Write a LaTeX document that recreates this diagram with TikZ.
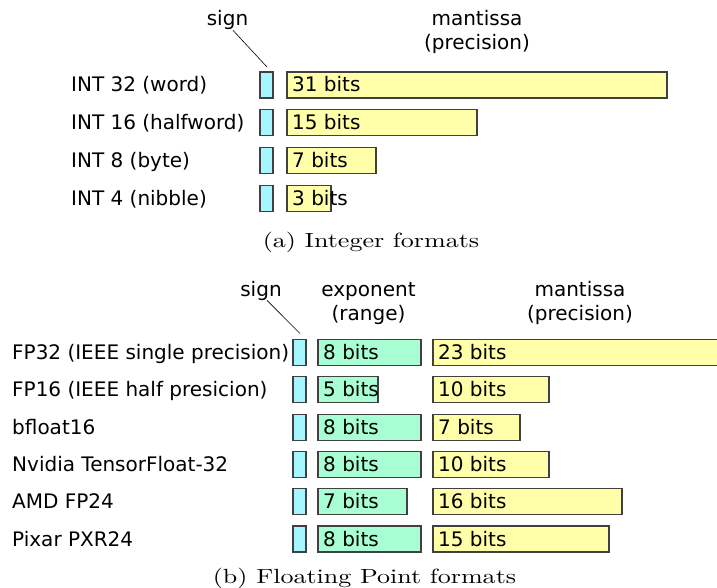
\documentclass[tikz,border=0pt]{standalone}
\usepackage{fontspec}
\newfontfamily\lblfont{DejaVu Sans}
\newfontfamily\capfont{lmroman10-regular.otf}
\definecolor{signfill}{HTML}{A6F6FF}
\definecolor{expfill}{HTML}{A8FFD4}
\definecolor{manfill}{HTML}{FFFFAA}
\definecolor{edge}{HTML}{404040}
\tikzset{
  bitbox/.style={draw=edge, line width=1.1pt, anchor=west, inner sep=0pt, outer sep=0pt, minimum height=26pt},
  signbox/.style={bitbox, fill=signfill, minimum width=13pt},
  expbox/.style={bitbox, fill=expfill},
  manbox/.style={bitbox, fill=manfill},
  txt/.style={font=\lblfont\fontsize{20}{24}\selectfont, inner sep=0pt},
  rowlbl/.style={txt, anchor=base west},
  bitlbl/.style={txt, anchor=base west},
  head/.style={txt, anchor=base},
  subcap/.style={anchor=base, inner sep=0pt},
  pointer/.style={draw=black, line width=0.6pt}
}
\newcommand{\captxt}[1]{\scalebox{1.27}[1]{\capfont\fontsize{20.5}{24}\selectfont #1}}
\begin{document}
\begin{tikzpicture}[x=1pt, y=-1pt]
  \useasboundingbox (0,0) rectangle (717,588);
  \clip (0,0) rectangle (717,588);

  % ---------- integer formats ----------
  \node[head] (isgn) at (227.5,26) {sign};
  \node[head] (iman) at (477,26) {mantissa};
  \node[head] (iprec) at (477,50) {(precision)};

  \foreach \i/\lab/\w/\n in {1/INT 32 (word)/380/31, 2/INT 16 (halfword)/190/15,
                             3/INT 8 (byte)/89/7, 4/INT 4 (nibble)/44/3} {
    \pgfmathsetmacro{\yc}{85+37.8*(\i-1)}
    \node[rowlbl] (il\i) at (71,\yc+7) {\lab};
    \node[signbox] (is\i) at (260,\yc) {};
    \node[manbox, minimum width=\w pt] (im\i) at (287,\yc) {};
    \node[bitlbl] (imt\i) at (292,\yc+7) {\n\ bits};
  }
  \draw[pointer] ([shift={(5.5,0)}]isgn.south) -- ([shift={(0.5,-5)}]is1.north);

  \node[subcap] (capa) at (371,247) {\captxt{(a) Integer formats}};

  % ---------- floating point formats ----------
  \node[head] (fsgn) at (261,296) {sign};
  \node[head] (fexp) at (368.5,296) {exponent};
  \node[head] (frng) at (368.5,320) {(range)};
  \node[head] (fman) at (580,296) {mantissa};
  \node[head] (fprec) at (580,320) {(precision)};

  \foreach \i/\lab/\e/\ew/\m/\mw in {1/FP32 (IEEE single precision)/8/103/23/307,
                                     2/FP16 (IEEE half presicion)/5/60/10/116,
                                     3/bfloat16/8/103/7/87,
                                     4/Nvidia TensorFloat-32/8/103/10/116,
                                     5/AMD FP24/7/89/16/189,
                                     6/Pixar PXR24/8/103/15/176} {
    \pgfmathsetmacro{\yc}{352.5+37.3*(\i-1)}
    \node[rowlbl] (fl\i) at (12,\yc+7) {\lab};
    \node[signbox] (fs\i) at (293,\yc) {};
    \node[expbox, minimum width=\ew pt] (fe\i) at (318,\yc) {};
    \node[bitlbl] (fet\i) at (323,\yc+7) {\e\ bits};
    \node[manbox, minimum width=\mw pt] (fm\i) at (433,\yc) {};
    \node[bitlbl] (fmt\i) at (438,\yc+7) {\m\ bits};
  }
  \draw[pointer] ([shift={(6,0)}]fsgn.south) -- ([shift={(0.5,-6)}]fs1.north);

  \node[subcap] (capb) at (364.5,583) {\captxt{(b) Floating Point formats}};
\end{tikzpicture}
\end{document}
